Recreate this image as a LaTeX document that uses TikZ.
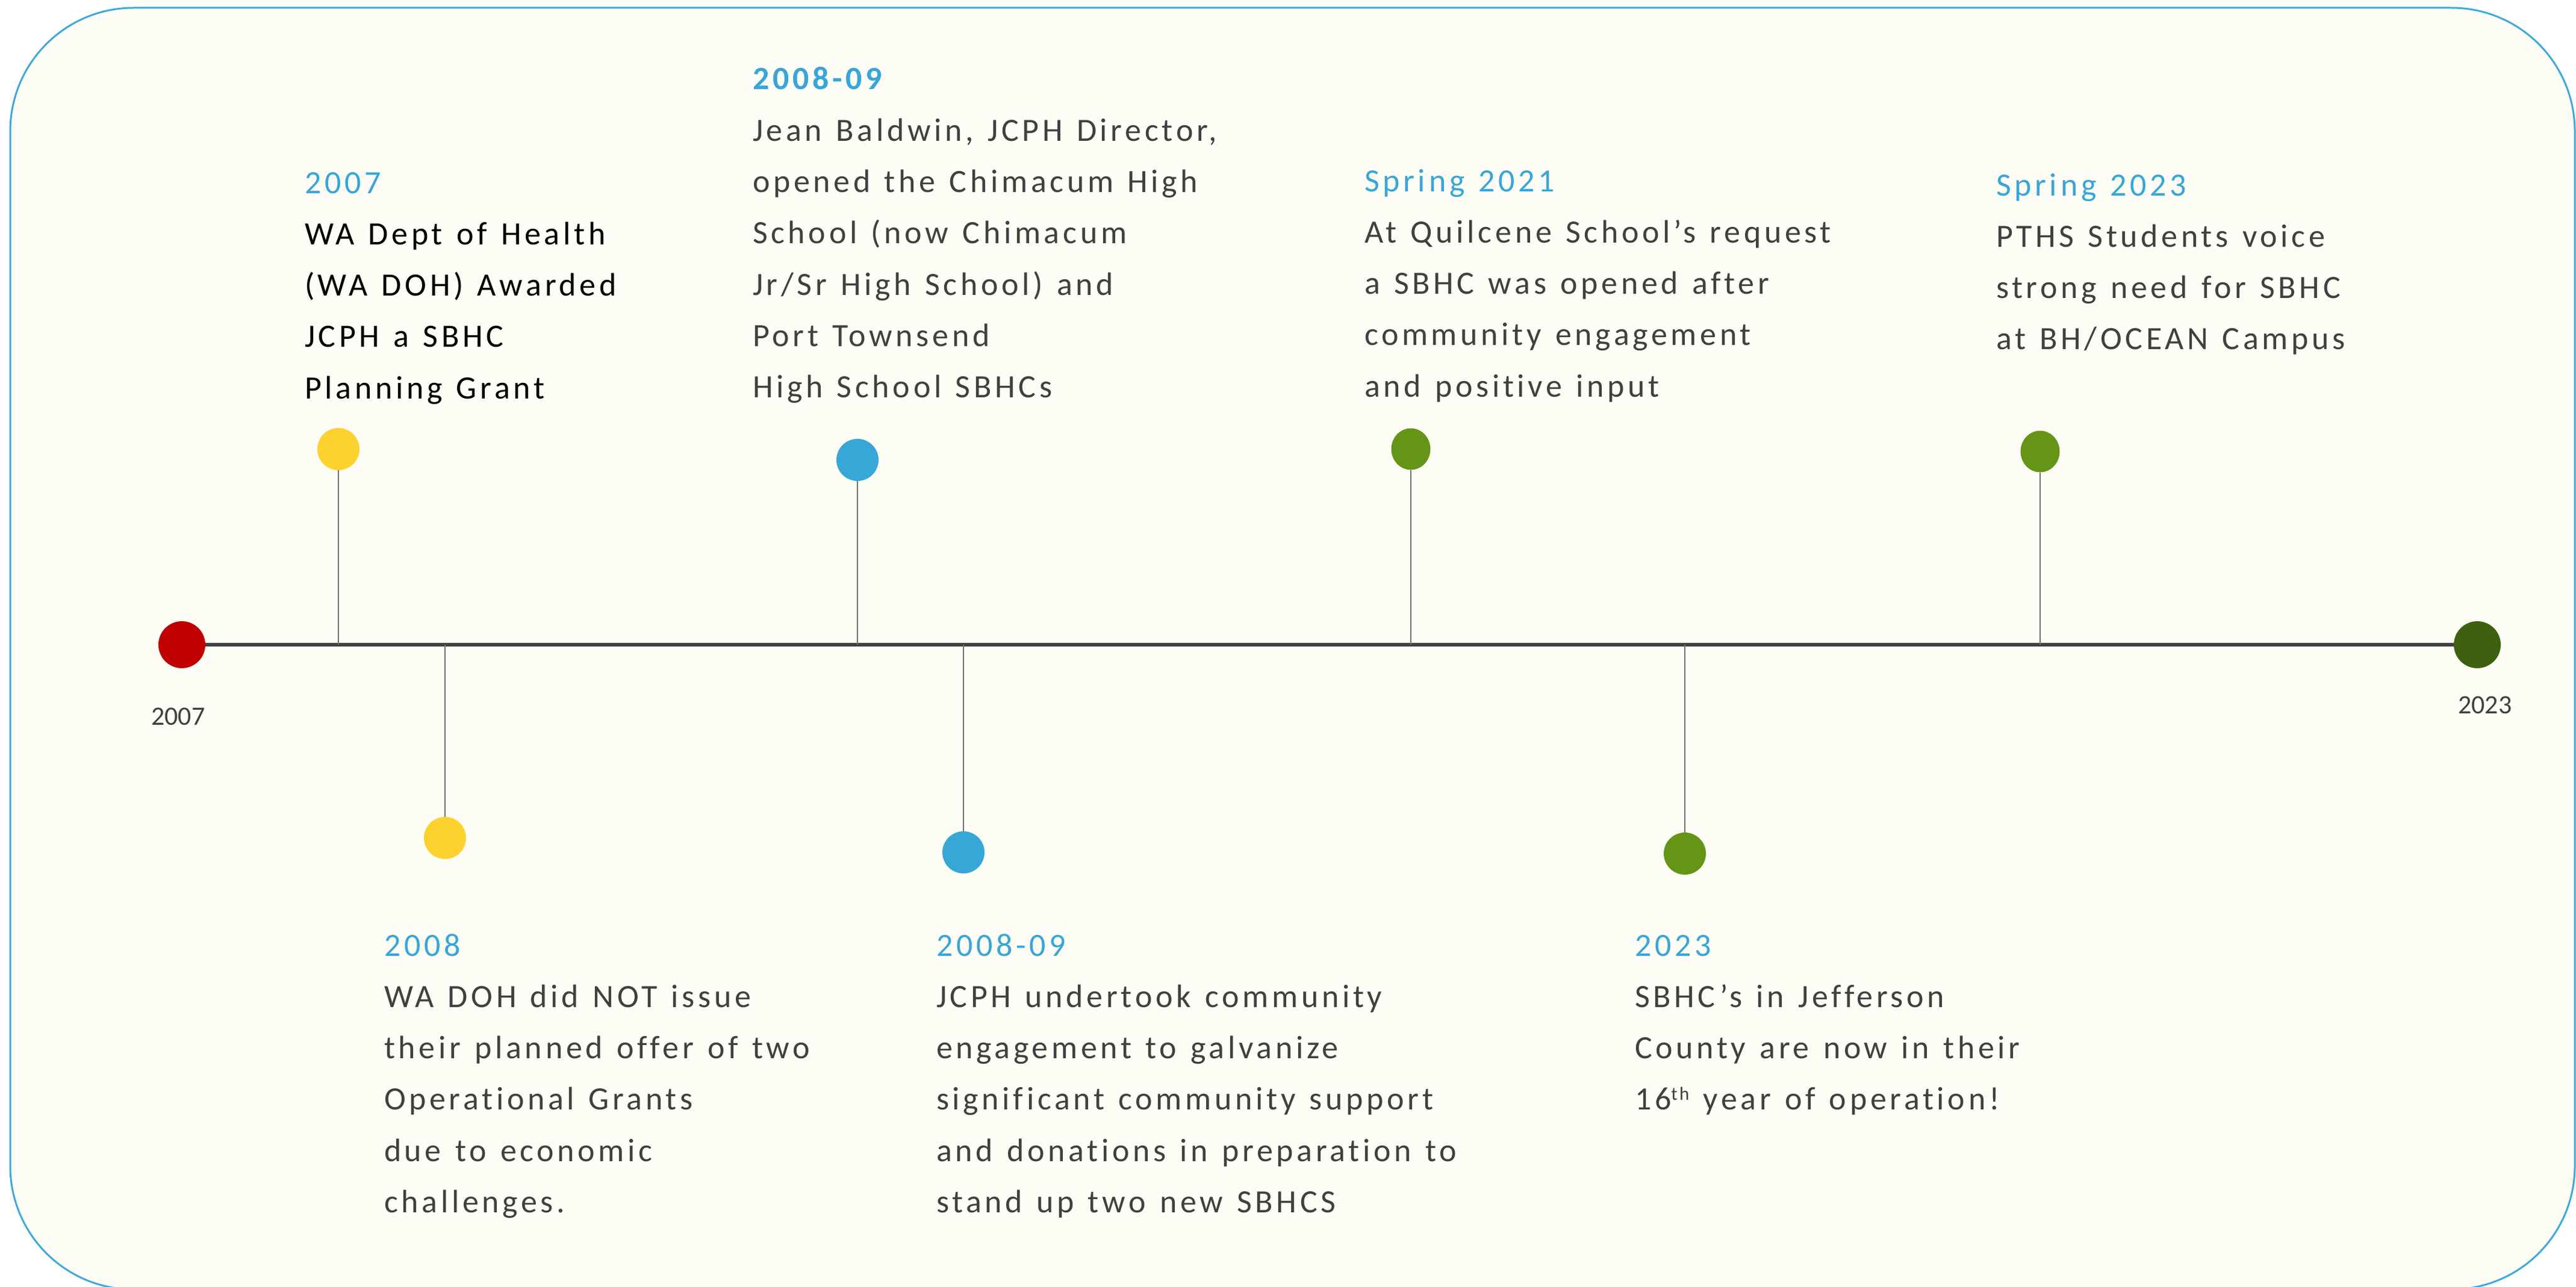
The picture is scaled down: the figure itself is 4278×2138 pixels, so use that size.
\documentclass[tikz,border=0pt]{standalone}
\usepackage{fontspec}
\setmainfont{Carlito}[LetterSpace=10.5,Ligatures=NoCommon]
\newfontfamily\plainfont{Carlito}
\usetikzlibrary{shapes.geometric}
\definecolor{bgcream}{HTML}{FEFDF5}
\definecolor{frameblue}{HTML}{3DA9DC}
\definecolor{headblue}{HTML}{38A6D8}
\definecolor{bodygrey}{HTML}{404040}
\definecolor{dotred}{HTML}{C00000}
\definecolor{dotyellow}{HTML}{FDD22F}
\definecolor{dotblue}{HTML}{37A7D7}
\definecolor{dotgreen}{HTML}{649517}
\definecolor{dotdark}{HTML}{3E6011}
\definecolor{stemgrey}{HTML}{707070}
\newcommand\tlfont{\fontsize{54}{85.3}\selectfont\spaceskip=0.43em\relax}
\newcommand\tlhead[1]{\hbox{\textcolor{headblue}{#1}}}
\newcommand\tlline[1]{\hbox{#1}}
\begin{document}
\begin{tikzpicture}[x=1pt,y=-1pt,
  dot/.style={circle,inner sep=0pt,minimum size=70pt},
  edot/.style={ellipse,inner sep=0pt,minimum width=65pt,minimum height=69pt},
  enddot/.style={circle,inner sep=0pt,minimum size=78pt},
  stem/.style={draw=stemgrey,line width=2pt},
  timeline/.style={draw=bodygrey,line width=6pt},
  block/.style={anchor=base west,inner sep=0pt,outer sep=0pt,font=\tlfont},
  endlabel/.style={anchor=base west,inner sep=0pt,font=\plainfont\fontsize{44}{50}\selectfont,text=bodygrey}]
\fill[white] (0,0) rectangle (4278,2138);
\useasboundingbox (0,0) rectangle (4278,2138);
\draw[frameblue,fill=bgcream,line width=3pt,rounded corners=205pt] (17,13) rectangle (4276,2142);

% text blocks
\node[block,text=black] (bA) at (506,321) {\vtop{%
  \tlhead{2007}
  \tlline{WA Dept of Health}
  \tlline{(WA DOH) Awarded}
  \tlline{JCPH a SBHC}
  \tlline{Planning Grant}}};
\node[block,text=bodygrey] (bB) at (1250,149) {\vtop{%
  \tlhead{\bfseries 2008-09}
  \tlline{Jean Baldwin, JCPH Director,}
  \tlline{opened the Chimacum High}
  \tlline{School (now Chimacum}
  \tlline{Jr/Sr High School) and}
  \tlline{Port Townsend}
  \tlline{High School SBHCs}}};
\node[block,text=bodygrey] (bC) at (2266,318) {\vtop{%
  \tlhead{Spring 2021}
  \tlline{At Quilcene School’s request}
  \tlline{a SBHC was opened after}
  \tlline{community engagement}
  \tlline{and positive input}}};
\node[block,text=bodygrey] (bD) at (3315,325) {\vtop{%
  \tlhead{Spring 2023}
  \tlline{PTHS Students voice}
  \tlline{strong need for SBHC}
  \tlline{at BH/OCEAN Campus}}};
\node[block,text=bodygrey] (bE) at (638,1588) {\vtop{%
  \tlhead{2008}
  \tlline{WA DOH did NOT issue}
  \tlline{their planned offer of two}
  \tlline{Operational Grants}
  \tlline{due to economic}
  \tlline{challenges.}}};
\node[block,text=bodygrey] (bF) at (1555,1588) {\vtop{%
  \tlhead{2008-09}
  \tlline{JCPH undertook community}
  \tlline{engagement to galvanize}
  \tlline{significant community support}
  \tlline{and donations in preparation to}
  \tlline{stand up two new SBHCS}}};
\node[block,text=bodygrey] (bG) at (2715,1588) {\vtop{%
  \tlhead{2023}
  \tlline{SBHC’s in Jefferson}
  \tlline{County are now in their}
  \tlline{16\raisebox{16pt}{\fontsize{31}{31}\selectfont th} year of operation!}}};

% end labels
\node[endlabel] (l2007) at (251,1204) {2007};
\node[endlabel] (l2023) at (4082,1185) {2023};

% dots
\node[dot,fill=dotyellow] (cA) at (562,746) {};
\node[dot,fill=dotblue] (cB) at (1424,764) {};
\node[edot,fill=dotgreen] (cC) at (2343,746) {};
\node[edot,fill=dotgreen] (cD) at (3388,750) {};
\node[dot,fill=dotyellow] (cE) at (739,1392) {};
\node[dot,fill=dotblue] (cF) at (1600,1416) {};
\node[dot,fill=dotgreen] (cG) at (2798,1418) {};
\node[enddot,fill=dotred] (start) at (302,1071) {};
\node[enddot,fill=dotdark] (finish) at (4114,1071) {};

% timeline
\draw[timeline] (start) -- (finish);
\foreach \c in {cA,cB,cC,cD,cE,cF,cG}{
  \coordinate (t\c) at (\c |- start);
  \draw[stem] (\c) -- (t\c);
}
\end{tikzpicture}
\end{document}
